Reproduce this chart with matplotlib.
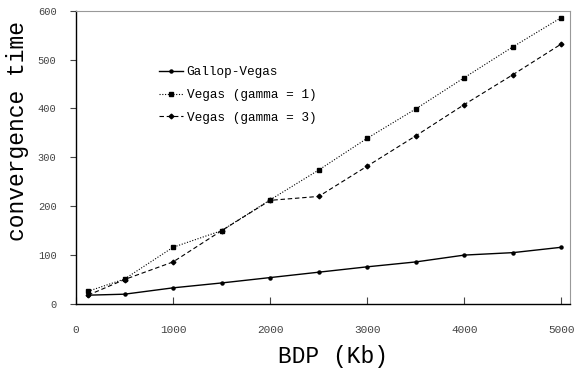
import matplotlib.pyplot as plt
import numpy as np

bdp = [125, 500, 1000, 1500, 2000, 2500, 3000, 3500, 4000, 4500, 5000]
gallop_vegas = [18, 20, 33, 43, 54, 65, 76, 86, 100, 105, 116]
vegas_g1 = [26, 51, 116, 150, 213, 274, 339, 399, 463, 526, 586]
vegas_g3 = [18, 50, 86, 150, 212, 220, 282, 344, 408, 469, 532]

plt.rcParams['font.family'] = ['Liberation Mono', 'DejaVu Sans Mono']

fig = plt.figure(figsize=(5.8, 3.68), dpi=100)
ax = fig.add_axes([0.131, 0.174, 0.852, 0.797])

ax.plot(bdp, gallop_vegas, color='black', linestyle='-', linewidth=1.0,
        marker='o', markersize=2.2, label='Gallop-Vegas')
ax.plot(bdp, vegas_g1, color='black', linestyle=(0, (1, 1.5)), linewidth=0.8,
        marker='s', markersize=2.6, label='Vegas (gamma = 1)')
ax.plot(bdp, vegas_g3, color='black', linestyle=(0, (4, 2.5)), linewidth=0.8,
        marker='D', markersize=2.4, label='Vegas (gamma = 3)')

ax.set_xlim(0, 5090)
ax.set_ylim(0, 600)
ax.set_xticks(np.arange(0, 5001, 1000))
ax.set_yticks(np.arange(0, 601, 100))
ax.tick_params(axis='x', direction='in', length=5, labelsize=8, pad=15, colors='#444444')
ax.tick_params(axis='y', direction='out', length=4, labelsize=7.5, pad=10, colors='#444444')
for s in ['left', 'bottom']:
    ax.spines[s].set_color('black')
    ax.spines[s].set_linewidth(1.0)
for s in ['top', 'right']:
    ax.spines[s].set_color('#999999')
    ax.spines[s].set_linewidth(0.8)

ax.set_xlabel('BDP (Kb)', fontsize=16.5)
ax.xaxis.set_label_coords(0.52, -0.14)
ax.set_ylabel('convergence time', fontsize=16.5)
ax.yaxis.set_label_coords(-0.095, 0.59)

leg = ax.legend(loc='upper left', bbox_to_anchor=(0.145, 0.85), frameon=False,
                fontsize=9.2, handlelength=1.9, handletextpad=0.25, labelspacing=0.85)

fig.savefig('out.png', dpi=100)
